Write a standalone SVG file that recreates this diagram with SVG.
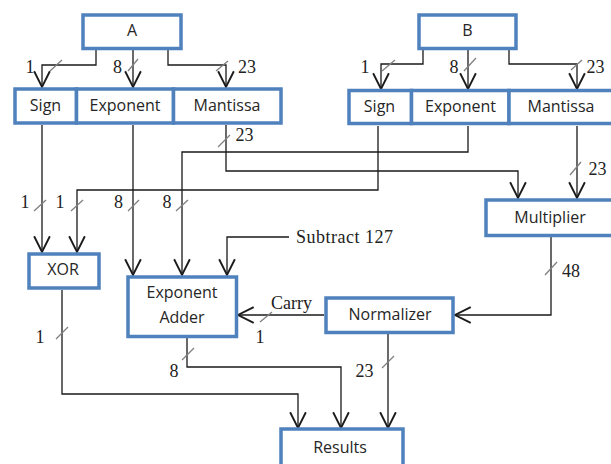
<svg xmlns="http://www.w3.org/2000/svg" width="611" height="464" viewBox="0 0 611 464">
<style>
.box{fill:#fff;stroke:#4f81bd;stroke-width:3.5}
.bt{font-family:"Open Sans","Liberation Sans",sans-serif;font-size:16px;fill:#262626;text-anchor:middle}
.ln{fill:none;stroke:#1a1a1a;stroke-width:1.3}
.arr{marker-end:url(#ah)}
.sl{stroke:#808080;stroke-width:1.3;fill:none}
.lb{font-family:"Liberation Serif","Times New Roman",serif;font-size:18px;fill:#222;text-anchor:middle}
.lt{font-family:"Liberation Serif","Times New Roman",serif;font-size:18px;fill:#222}
</style>
<defs>
<marker id="ah" markerUnits="userSpaceOnUse" markerWidth="20" markerHeight="20" refX="0" refY="0" orient="auto" overflow="visible" viewBox="-12 -7 14 14">
<path d="M-11,-5.5 L0,0 L-11,5.5" fill="none" stroke="#1a1a1a" stroke-width="1.3"/>
</marker>
</defs>
<rect width="611" height="464" fill="#fff"/>

<g id="connectors">
<path class="ln arr" d="M96,50 V65 H42 V87"/>
<path class="ln arr" d="M133,50 V87"/>
<path class="ln arr" d="M168,50 V65 H226 V87"/>
<path class="ln arr" d="M423,50 V64 H381 V89"/>
<path class="ln arr" d="M468,50 V89"/>
<path class="ln arr" d="M509,50 V64 H577 V89"/>
<path class="ln arr" d="M42,125 V252"/>
<path class="ln arr" d="M133,125 V275"/>
<path class="ln arr" d="M226,125 V171 H518 V198"/>
<path class="ln arr" d="M468,126 V152 H182 V275"/>
<path class="ln arr" d="M378,126 V190 H77 V252"/>
<path class="ln arr" d="M577,126 V198"/>
<path class="ln arr" d="M289,237 H227 V275"/>
<path class="ln arr" d="M551,237 V315 H455"/>
<path class="ln arr" d="M324,315 H238"/>
<path class="ln arr" d="M187,338 V367 H341 V428"/>
<path class="ln arr" d="M62,290 V394 H298 V428"/>
<path class="ln arr" d="M388,334 V428"/>
<g class="sl">
<path d="M50,71 L62,60"/>
<path d="M128,71 L138,59"/>
<path d="M216,71 L228,61"/>
<path d="M382,71 L395,60"/>
<path d="M464,71 L476,58"/>
<path d="M571,70 L582,60"/>
<path d="M218,147 L230,135"/>
<path d="M34,211 L46,200"/>
<path d="M71,211 L83,200"/>
<path d="M128,211 L139,200"/>
<path d="M176,211 L188,200"/>
<path d="M570,175 L581,162"/>
<path d="M545,275 L557,262"/>
<path d="M260,322 L272,312"/>
<path d="M182,360 L194,348"/>
<path d="M56,339 L68,327"/>
<path d="M382,368 L394,356"/>
</g>
<g>
<text class="lb" x="30" y="73">1</text>
<text class="lb" x="117.5" y="73">8</text>
<text class="lb" x="247" y="73">23</text>
<text class="lb" x="365" y="73">1</text>
<text class="lb" x="454" y="73">8</text>
<text class="lb" x="595.5" y="73">23</text>
<text class="lb" x="244.5" y="141">23</text>
<text class="lb" x="25" y="208">1</text>
<text class="lb" x="60" y="208">1</text>
<text class="lb" x="118.5" y="208">8</text>
<text class="lb" x="167" y="208">8</text>
<text class="lb" x="597.5" y="175">23</text>
<text class="lb" x="571" y="277">48</text>
<text class="lb" x="260" y="343">1</text>
<text class="lb" x="174" y="377">8</text>
<text class="lb" x="40" y="343">1</text>
<text class="lb" x="364.5" y="377">23</text>
<text class="lt" x="271" y="309">Carry</text>
<text class="lt" x="296" y="243" textLength="97" lengthAdjust="spacing">Subtract 127</text>
</g>
</g>

<g id="A"><rect class="box" x="83" y="15" width="98" height="33.5"/><text class="bt" x="132" y="36">A</text></g>
<g id="B"><rect class="box" x="419" y="15" width="97" height="33.5"/><text class="bt" x="467.5" y="36">B</text></g>

<g id="A-sign"><rect class="box" x="15" y="89" width="61.5" height="34"/><text class="bt" x="45.5" y="111">Sign</text></g>
<g id="A-exponent"><rect class="box" x="76.5" y="89" width="97" height="34"/><text class="bt" x="125" y="111">Exponent</text></g>
<g id="A-mantissa"><rect class="box" x="173.5" y="89" width="107.5" height="34"/><text class="bt" x="227" y="111">Mantissa</text></g>

<g id="B-sign"><rect class="box" x="349" y="90.5" width="62.5" height="33"/><text class="bt" x="379.5" y="112">Sign</text></g>
<g id="B-exponent"><rect class="box" x="411.5" y="90.5" width="97.5" height="33"/><text class="bt" x="460.5" y="112">Exponent</text></g>
<g id="B-mantissa"><rect class="box" x="509" y="90.5" width="106" height="33"/><text class="bt" x="561" y="112">Mantissa</text></g>

<g id="xor"><rect class="box" x="29" y="254" width="70" height="34"/><text class="bt" x="63" y="275">XOR</text></g>
<g id="exponent-adder"><rect class="box" x="128" y="277" width="108.5" height="59.5"/><text class="bt" x="182" y="298">Exponent</text><text class="bt" x="182" y="323">Adder</text></g>
<g id="multiplier"><rect class="box" x="486" y="200" width="130" height="35.5"/><text class="bt" x="550" y="223">Multiplier</text></g>
<g id="normalizer"><rect class="box" x="326" y="298" width="127" height="34.5"/><text class="bt" x="390" y="320">Normalizer</text></g>
<g id="results"><rect class="box" x="281" y="429" width="122" height="40"/><text class="bt" x="340" y="453">Results</text></g>
</svg>
